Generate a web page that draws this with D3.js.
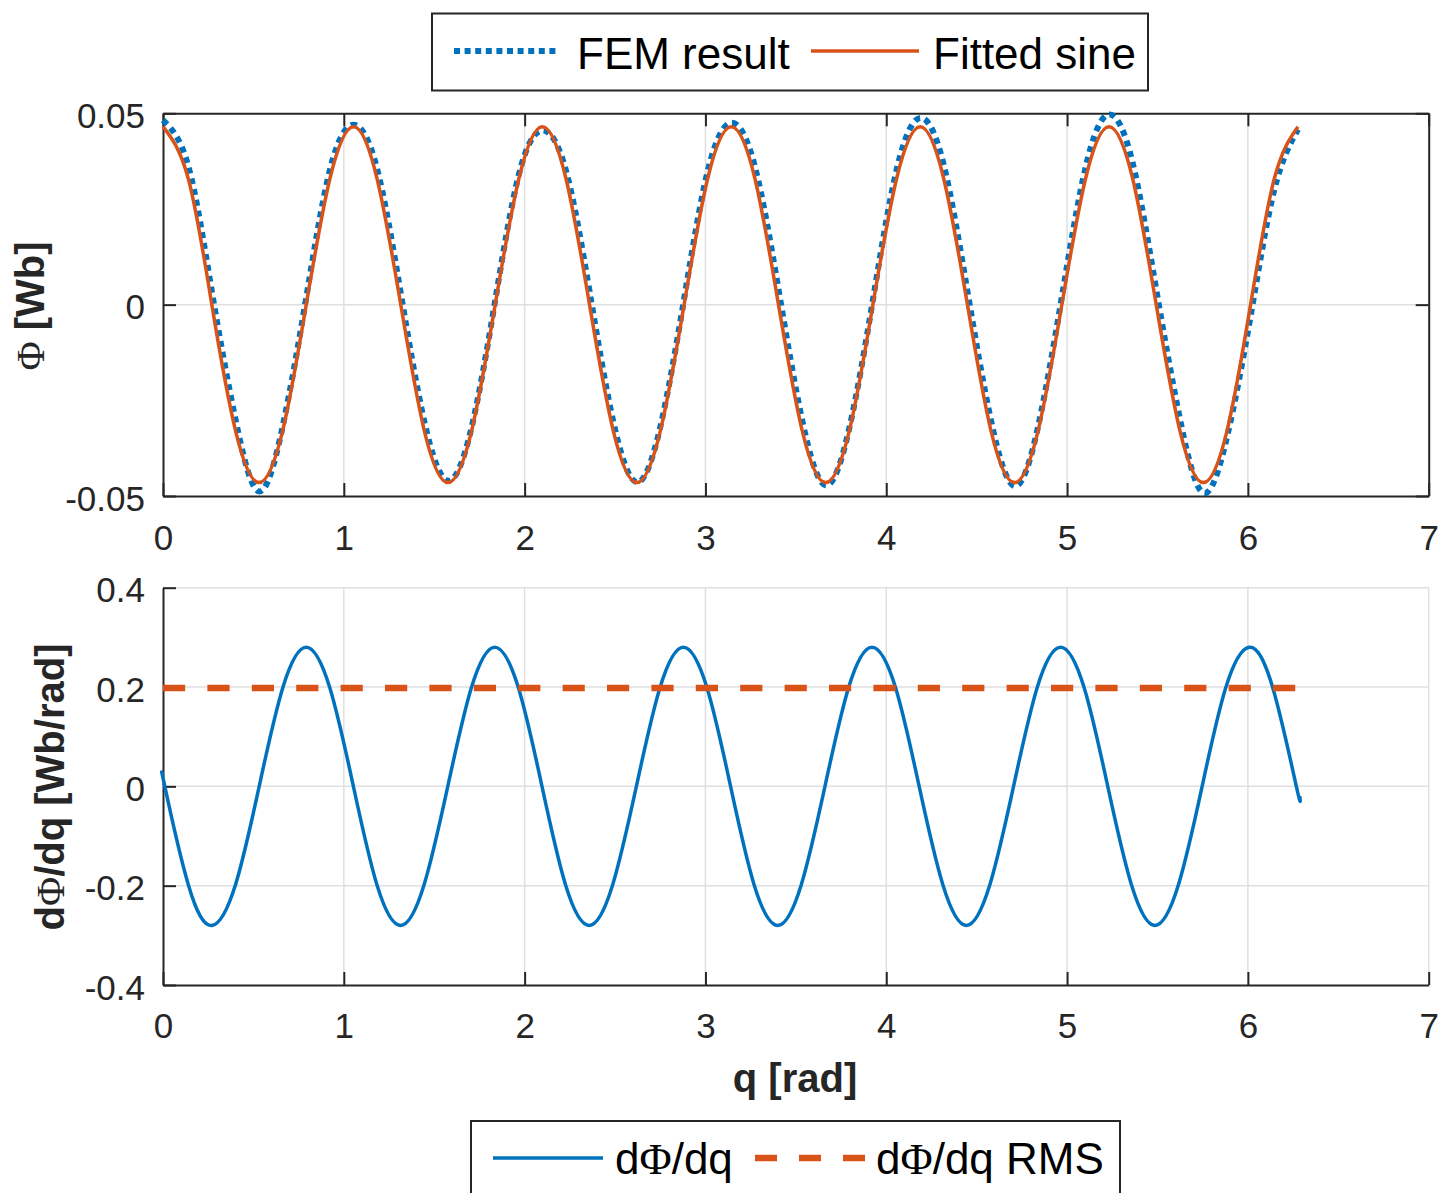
<!DOCTYPE html>
<html><head><meta charset="utf-8">
<script src="https://cdn.jsdelivr.net/npm/d3@7"></script>
<style>body{margin:0;background:#fff}svg{display:block}</style>
</head><body><svg id="c" width="1445" height="1193"></svg>
<script>
// ---- data ----
const thetaTop = [0,0.140,0.270,0.401,0.531,0.662,0.792,0.923,1.054,1.184,1.315,1.445,1.576,1.707,1.837,1.968,2.098,2.229,2.359,2.490,2.621,2.751,2.882,3.012,3.143,3.274,3.404,3.535,3.665,3.796,3.926,4.057,4.188,4.318,4.449,4.579,4.710,4.840,4.971,5.102,5.232,5.363,5.493,5.624,5.754,5.885,6.015,6.146,6.277];
const fittedSine = [0.0465,0.0329,0,-0.0329,-0.0465,-0.0329,0,0.0329,
  0.0465,0.0329,0,-0.0329,-0.0465,-0.0329,0,0.0329,
  0.0465,0.0329,0,-0.0329,-0.0465,-0.0329,0,0.0329,
  0.0465,0.0329,0,-0.0329,-0.0465,-0.0329,0,0.0329,
  0.0465,0.0329,0,-0.0329,-0.0465,-0.0329,0,0.0329,
  0.0465,0.0329,0,-0.0329,-0.0465,-0.0329,0,0.0329,0.0465];
const femResult = [0.0482,0.0362,0.0035,-0.0300,-0.0488,-0.0318,0.0018,0.0352,
  0.0470,0.0355,0.0030,-0.0305,-0.0460,-0.0320,0.0010,0.0340,
  0.0455,0.0350,0.0035,-0.0305,-0.0464,-0.0318,0.0015,0.0348,
  0.0475,0.0360,0.0040,-0.0302,-0.0472,-0.0322,0.0012,0.0352,
  0.0488,0.0365,0.0035,-0.0302,-0.0474,-0.0318,0.0020,0.0358,
  0.0497,0.0370,0.0040,-0.0298,-0.0492,-0.0345,-0.0030,0.0300,0.0458];
const thetaBot = [0,0.010,0.140,0.271,0.401,0.532,0.662,0.792,0.923,1.053,1.183,1.314,1.444,1.575,1.705,1.835,1.966,2.096,2.226,2.357,2.487,2.618,2.748,2.878,3.009,3.139,3.269,3.400,3.530,3.661,3.791,3.921,4.052,4.182,4.313,4.443,4.573,4.704,4.834,4.964,5.095,5.225,5.356,5.486,5.616,5.747,5.877,6.007,6.138,6.268,6.287];
const dPhiDq = [0.017,0,-0.198,-0.280,-0.198,0,0.198,0.280,0.198,
  0,-0.198,-0.280,-0.198,0,0.198,0.280,0.198,
  0,-0.198,-0.280,-0.198,0,0.198,0.280,0.198,
  0,-0.198,-0.280,-0.198,0,0.198,0.280,0.198,
  0,-0.198,-0.280,-0.198,0,0.198,0.280,0.198,
  0,-0.198,-0.280,-0.198,0,0.198,0.280,0.198,0,-0.020];
const rmsX = [0, 6.283];
const rmsY = [0.198, 0.198];
const xTicks = [0,1,2,3,4,5,6,7];
const yTopTicks = [-0.05,0,0.05];
const yBotTicks = [-0.4,-0.2,0,0.2,0.4];

// ---- styles ----
const FONT = "'Liberation Sans', Arial, Helvetica, sans-serif";
const SERIF = "'Liberation Serif', 'Times New Roman', serif";
const AX = "#262626", GRID = "#dfdfdf", BLUE = "#0072BD", ORANGE = "#D95319";

const svg = d3.select("#c");
const x = d3.scaleLinear().domain([0,7]).range([163,1428.7]);
const yT = d3.scaleLinear().domain([-0.05,0.05]).range([496,113.3]);
const yB = d3.scaleLinear().domain([-0.4,0.4]).range([985,587.7]);
const fmt = d => d === 0 ? "0" : String(d);

function grid(ys, xs, yScale){
  const g = svg.append("g").attr("stroke", GRID).attr("stroke-width", 1.5);
  g.selectAll(".v").data(xs).join("line")
    .attr("x1", d=>x(d)).attr("x2", d=>x(d))
    .attr("y1", yScale.range()[0]).attr("y2", yScale.range()[1]);
  g.selectAll(".h").data(ys).join("line")
    .attr("y1", d=>yScale(d)).attr("y2", d=>yScale(d))
    .attr("x1", x.range()[0]).attr("x2", x.range()[1]);
}
grid(yTopTicks.filter(t=>t>-0.05&&t<0.05), xTicks.filter(t=>t>0&&t<7), yT);
grid(yBotTicks.filter(t=>t>-0.4), xTicks.filter(t=>t>0), yB);

function styleAxis(g){
  g.attr("font-size", 35).attr("font-family", FONT);
  g.select(".domain").attr("stroke", AX).attr("stroke-width", 2);
  g.selectAll(".tick line").attr("stroke", AX).attr("stroke-width", 2);
  g.selectAll(".tick text").attr("fill", AX);
}
function bottomAxis(yPos, base){
  const g = svg.append("g").attr("transform", `translate(0,${yPos})`)
    .call(d3.axisBottom(x).tickValues(xTicks).tickFormat(fmt).tickSizeInner(-13).tickSizeOuter(0).tickPadding(0));
  styleAxis(g);
  g.selectAll(".tick text").attr("y", base).attr("dy", null);
}
function leftAxis(yScale, ticks){
  const g = svg.append("g").attr("transform", `translate(${x(0)},0)`)
    .call(d3.axisLeft(yScale).tickValues(ticks).tickFormat(fmt).tickSizeInner(-13).tickSizeOuter(0).tickPadding(0));
  styleAxis(g);
  g.selectAll(".tick text").attr("x", -18).attr("dy", null).attr("y", 14);
}

// top axes (box on)
bottomAxis(yT(-0.05), 54);
leftAxis(yT, yTopTicks);
{
  const g = svg.append("g").attr("transform", `translate(0,${yT(0.05)})`)
    .call(d3.axisTop(x).tickValues(xTicks).tickFormat("").tickSizeInner(-13).tickSizeOuter(0));
  styleAxis(g);
  const r = svg.append("g").attr("transform", `translate(${x(7)},0)`)
    .call(d3.axisRight(yT).tickValues(yTopTicks).tickFormat("").tickSizeInner(-13).tickSizeOuter(0));
  styleAxis(r);
}
// bottom axes (box off)
bottomAxis(yB(-0.4), 53);
leftAxis(yB, yBotTicks);

// data lines
const lineTop = (ys) => d3.line().x((d,i)=>x(thetaTop[i])).y(d=>yT(d)).curve(d3.curveNatural)(ys);
svg.append("path").attr("d", lineTop(femResult)).attr("fill","none")
  .attr("stroke", BLUE).attr("stroke-width", 6).attr("stroke-dasharray", "6 5");
svg.append("path").attr("d", lineTop(fittedSine)).attr("fill","none")
  .attr("stroke", ORANGE).attr("stroke-width", 3.5);

svg.append("path")
  .attr("d", d3.line().x((d,i)=>x(thetaBot[i])).y(d=>yB(d)).curve(d3.curveNatural)(dPhiDq))
  .attr("fill","none").attr("stroke", BLUE).attr("stroke-width", 3.5);
svg.append("path")
  .attr("d", d3.line().x((d,i)=>x(rmsX[i])).y(d=>yB(d))(rmsY))
  .attr("fill","none").attr("stroke", ORANGE).attr("stroke-width", 6.5).attr("stroke-dasharray", "22.2 22.2");

// axis labels
const yl1 = svg.append("text").attr("transform", "translate(44,306) rotate(-90)")
  .attr("text-anchor","middle").attr("font-size",40).attr("fill",AX);
yl1.append("tspan").attr("font-family",SERIF).text("Φ");
yl1.append("tspan").attr("font-family",FONT).attr("font-weight","bold").text(" [Wb]");

const yl2 = svg.append("text").attr("transform", "translate(64,787) rotate(-90)")
  .attr("text-anchor","middle").attr("font-size",40).attr("fill",AX);
yl2.append("tspan").attr("font-family",FONT).attr("font-weight","bold").text("d");
yl2.append("tspan").attr("font-family",SERIF).text("Φ");
yl2.append("tspan").attr("font-family",FONT).attr("font-weight","bold").text("/dq [Wb/rad]");

svg.append("text").attr("x",795).attr("y",1092).attr("text-anchor","middle")
  .attr("font-family",FONT).attr("font-weight","bold").attr("font-size",40).attr("fill",AX).text("q [rad]");

// legends
function legendText(xp, yp, parts){
  const t = svg.append("text").attr("x",xp).attr("y",yp).attr("font-size",44).attr("fill","#000");
  parts.forEach(p => t.append("tspan").attr("font-family", p[1]?SERIF:FONT).text(p[0]));
}
svg.append("rect").attr("x",432).attr("y",13.5).attr("width",716).attr("height",77)
  .attr("fill","#fff").attr("stroke",AX).attr("stroke-width",2);
svg.append("line").attr("x1",454).attr("x2",560).attr("y1",51).attr("y2",51)
  .attr("stroke",BLUE).attr("stroke-width",6).attr("stroke-dasharray","6 4.6");
legendText(577, 69, [["FEM result"]]);
svg.append("line").attr("x1",811).attr("x2",919).attr("y1",51).attr("y2",51)
  .attr("stroke",ORANGE).attr("stroke-width",3.5);
legendText(933, 69, [["Fitted sine"]]);

svg.append("rect").attr("x",471).attr("y",1121).attr("width",649).attr("height",85)
  .attr("fill","#fff").attr("stroke",AX).attr("stroke-width",2);
svg.append("line").attr("x1",493).attr("x2",603).attr("y1",1158).attr("y2",1158)
  .attr("stroke",BLUE).attr("stroke-width",3.5);
legendText(615, 1174, [["d"],["Φ",1],["/dq"]]);
svg.append("line").attr("x1",755).attr("x2",865).attr("y1",1158).attr("y2",1158)
  .attr("stroke",ORANGE).attr("stroke-width",6.5).attr("stroke-dasharray","22 22");
legendText(876, 1174, [["d"],["Φ",1],["/dq RMS"]]);
</script>
</body></html>
